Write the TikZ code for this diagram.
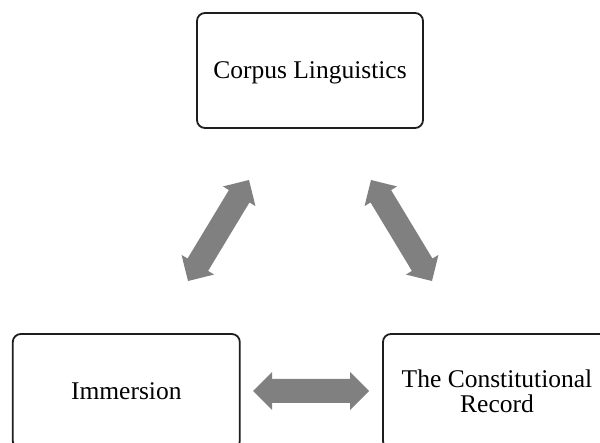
\documentclass[tikz,border=0pt]{standalone}
\usepackage{fontspec}
\setmainfont{Liberation Serif}
\usetikzlibrary{calc}
\definecolor{arrowgray}{HTML}{808080}
\definecolor{boxline}{HTML}{1E1E1E}
\tikzset{
  boxnode/.style={draw=boxline, line width=1.8pt, rounded corners=8pt,
    inner sep=0pt, align=center, text depth=0pt,
    font=\fontsize{25.5}{25}\selectfont},
  arrowfill/.style={fill=arrowgray}
}
\newcommand\dblarrow[2]{%
  \fill[arrowfill] (#1)
    -- ($(#1)!19pt!(#2)!19pt!90:(#2)$)
    -- ($(#1)!19pt!(#2)!12pt!90:(#2)$)
    -- ($(#2)!19pt!(#1)!12pt!-90:(#1)$)
    -- ($(#2)!19pt!(#1)!19pt!-90:(#1)$)
    -- (#2)
    -- ($(#2)!19pt!(#1)!19pt!90:(#1)$)
    -- ($(#2)!19pt!(#1)!12pt!90:(#1)$)
    -- ($(#1)!19pt!(#2)!12pt!-90:(#2)$)
    -- ($(#1)!19pt!(#2)!19pt!-90:(#2)$)
    -- cycle;}
\begin{document}
\begin{tikzpicture}[x=1pt,y=-1pt]
\useasboundingbox (0,0) rectangle (600,443);
\clip (0,0) rectangle (600,443);
\node[boxnode, minimum width=226pt, minimum height=115pt] (corpus) at (310,70.5) {Corpus Linguistics};
\node[boxnode, minimum width=227pt, minimum height=115pt] (imm) at (126.3,391.5) {Immersion};
\node[boxnode, minimum width=228pt, minimum height=115pt] (const) at (497,391.5) {The Constitutional\\Record};
\coordinate (l1) at (249,180);
\coordinate (l2) at (188,281);
\coordinate (r1) at (371,180);
\coordinate (r2) at (432,281);
\coordinate (h1) at (253,391);
\coordinate (h2) at (369,391);
\dblarrow{l1}{l2}
\dblarrow{r1}{r2}
\dblarrow{h1}{h2}
\end{tikzpicture}
\end{document}
